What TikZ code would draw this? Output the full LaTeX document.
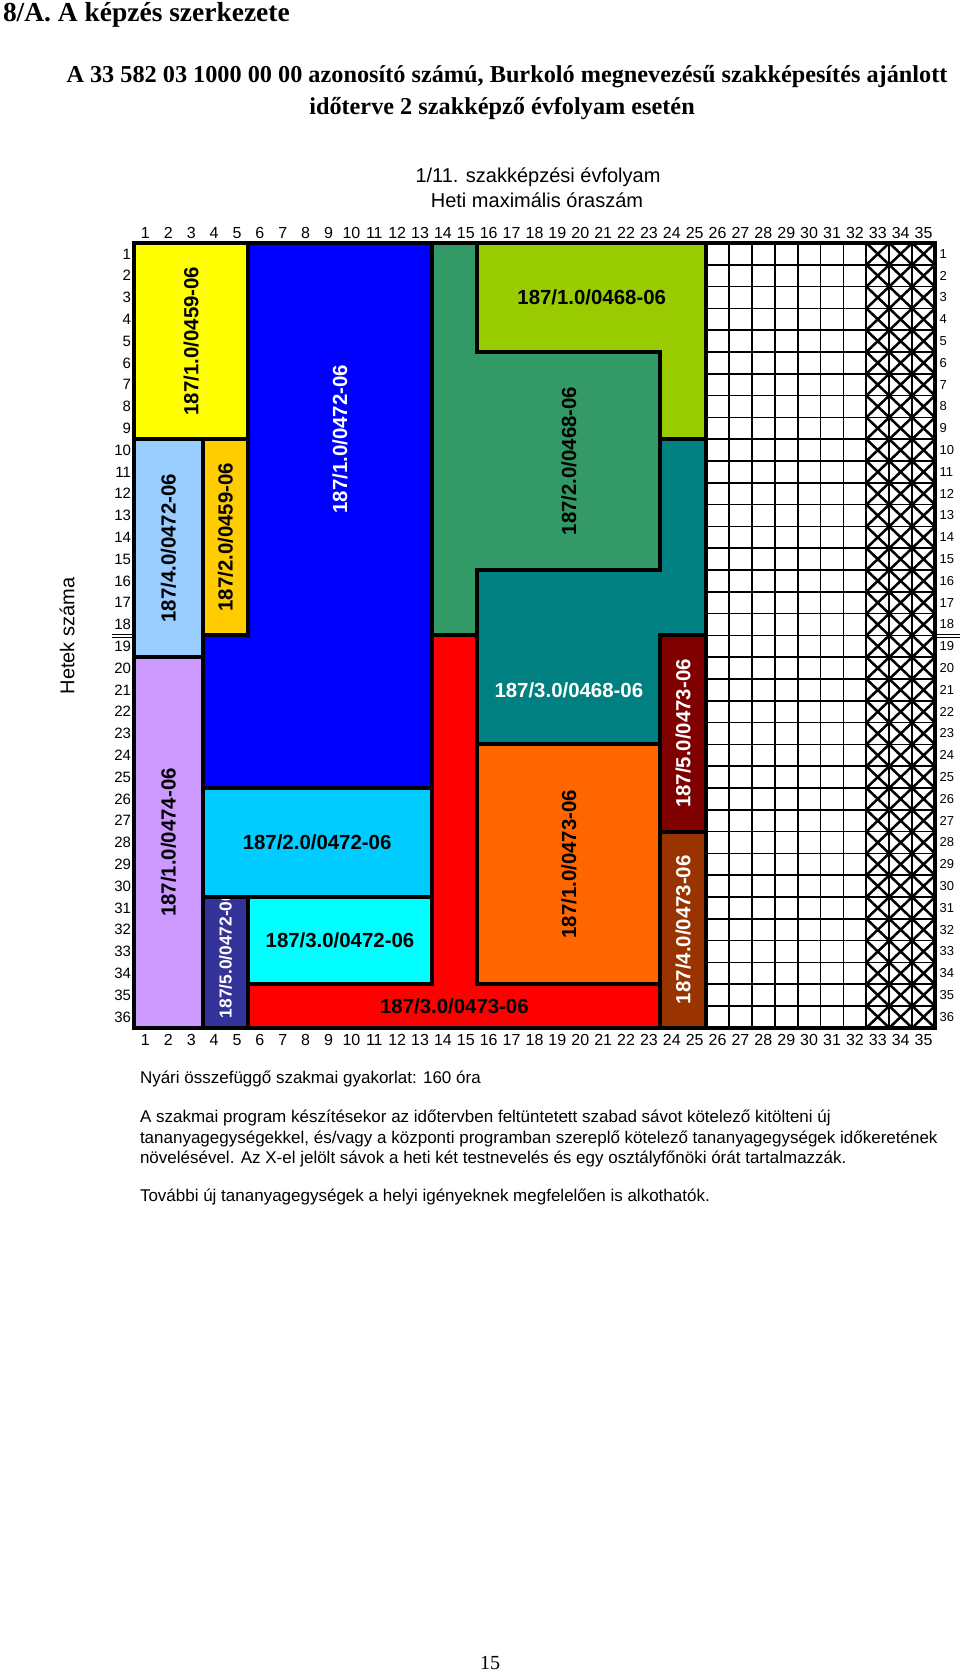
\documentclass[tikz,border=0pt]{standalone}
\usepackage{fontspec}
\setmainfont{Liberation Serif}
\newfontfamily\arial{Liberation Sans}
\definecolor{cYellow}{HTML}{FFFF00}
\definecolor{cLBlue}{HTML}{99CCFF}
\definecolor{cGold}{HTML}{FFCC00}
\definecolor{cBlue}{HTML}{0000FF}
\definecolor{cGreen}{HTML}{339966}
\definecolor{cLime}{HTML}{99CC00}
\definecolor{cTeal}{HTML}{008080}
\definecolor{cRed}{HTML}{FF0000}
\definecolor{cOrange}{HTML}{FF6600}
\definecolor{cMaroon}{HTML}{800000}
\definecolor{cBrown}{HTML}{993300}
\definecolor{cLilac}{HTML}{CC99FF}
\definecolor{cSky}{HTML}{00CCFF}
\definecolor{cCyan}{HTML}{00FFFF}
\definecolor{cNavy}{HTML}{333399}
\begin{document}
\begin{tikzpicture}[x=0.75pt,y=-0.75pt,
  every node/.style={inner sep=0pt, outer sep=0pt},
  blk/.style={draw=black, line width=3pt, line join=miter},
  thin grid/.style={draw=black, line width=1.3pt},
  xline/.style={draw=black, line width=1.9pt},
  lbl/.style={font=\arial\bfseries\fontsize{15.3}{16}\selectfont},
  vlbl/.style={lbl, rotate=90},
  colnum/.style={font=\arial\fontsize{12}{12}\selectfont},
  rownumL/.style={font=\arial\fontsize{11.25}{12}\selectfont, anchor=east},
  rownumR/.style={font=\arial\fontsize{9.75}{10}\selectfont, anchor=west},
  paratext/.style={font=\arial\fontsize{12.75}{14}\selectfont, anchor=base west},
  headtext/.style={font=\arial\fontsize{15}{16}\selectfont, anchor=base}]
\useasboundingbox (0,0) rectangle (960,1675);
\fill[white] (0,0) rectangle (960,1675);

% titles
\node[anchor=base west, font=\bfseries\fontsize{20.6}{21}\selectfont] (title) at (3,21) {8/A. A képzés szerkezete};
\node[anchor=base, font=\bfseries\fontsize{18.2}{19}\selectfont] (sub1) at (507,82) {A 33 582 03 1000 00 00 azonosító számú, Burkoló megnevezésű szakképesítés ajánlott};
\node[anchor=base, font=\bfseries\fontsize{18.2}{19}\selectfont] (sub2) at (502,114) {időterve 2 szakképző évfolyam esetén};
\node[headtext] (head1) at (538,182) {1/11. szakképzési évfolyam};
\node[headtext] (head2) at (537,207) {Heti maximális óraszám};
\node[font=\arial\fontsize{15}{16}\selectfont, rotate=90] (weeks) at (67,636) {Hetek száma};

% double separator lines between rows 18 and 19
\draw[line width=0.8pt] (112,634.5) -- (134,634.5) (112,637.5) -- (134,637.5);
\draw[line width=0.8pt] (936,634.5) -- (960,634.5) (936,637.5) -- (960,637.5);

\begin{scope}[shift={(134,243)}, x=17.1645pt, y=-16.35pt]
  % fills
  \fill[cYellow] (0,0) rectangle (5,9);
  \fill[cLBlue] (0,9) rectangle (3,19);
  \fill[cGold] (3,9) rectangle (5,18);
  \fill[cBlue] (5,0) -- (13,0) -- (13,25) -- (3,25) -- (3,18) -- (5,18) -- cycle;
  \fill[cGreen] (13,0) -- (15,0) -- (15,5) -- (23,5) -- (23,15) -- (15,15) -- (15,18) -- (13,18) -- cycle;
  \fill[cLime] (15,0) -- (25,0) -- (25,9) -- (23,9) -- (23,5) -- (15,5) -- cycle;
  \fill[cTeal] (23,9) -- (25,9) -- (25,18) -- (23,18) -- (23,23) -- (15,23) -- (15,15) -- (23,15) -- cycle;
  \fill[cRed] (13,18) -- (15,18) -- (15,34) -- (23,34) -- (23,36) -- (5,36) -- (5,34) -- (13,34) -- cycle;
  \fill[cOrange] (15,23) rectangle (23,34);
  \fill[cMaroon] (23,18) rectangle (25,27);
  \fill[cBrown] (23,27) rectangle (25,36);
  \fill[cLilac] (0,19) rectangle (3,36);
  \fill[cSky] (3,25) rectangle (13,30);
  \fill[cCyan] (5,30) rectangle (13,34);
  \fill[cNavy] (3,30) rectangle (5,36);

  % free grid and X cells
  \foreach \c in {26,...,34} \draw[thin grid] (\c,0) -- (\c,36);
  \foreach \r in {1,...,35} \draw[thin grid] (25,\r) -- (35,\r);
  \foreach \c in {32,33,34} \foreach \r in {0,...,35}
    \draw[xline] (\c,\r) -- (\c+1,\r+1) (\c+1,\r) -- (\c,\r+1);

  % block outlines
  \draw[blk] (0,0) rectangle (5,9);
  \draw[blk] (0,9) rectangle (3,19);
  \draw[blk] (3,9) rectangle (5,18);
  \draw[blk] (5,0) -- (13,0) -- (13,25) -- (3,25) -- (3,18) -- (5,18) -- cycle;
  \draw[blk] (13,0) -- (15,0) -- (15,5) -- (23,5) -- (23,15) -- (15,15) -- (15,18) -- (13,18) -- cycle;
  \draw[blk] (15,0) -- (25,0) -- (25,9) -- (23,9) -- (23,5) -- (15,5) -- cycle;
  \draw[blk] (23,9) -- (25,9) -- (25,18) -- (23,18) -- (23,23) -- (15,23) -- (15,15) -- (23,15) -- cycle;
  \draw[blk] (13,18) -- (15,18) -- (15,34) -- (23,34) -- (23,36) -- (5,36) -- (5,34) -- (13,34) -- cycle;
  \draw[blk] (15,23) rectangle (23,34);
  \draw[blk] (23,18) rectangle (25,27);
  \draw[blk] (23,27) rectangle (25,36);
  \draw[blk] (0,19) rectangle (3,36);
  \draw[blk] (3,25) rectangle (13,30);
  \draw[blk] (5,30) rectangle (13,34);
  \draw[blk] (3,30) rectangle (5,36);
  \draw[blk] (25,0) -- (25,36);
  \draw[blk] (0,0) rectangle (35,36);

  % block labels
  \node[vlbl] (l1) at (2.5,4.5) {187/1.0/0459-06};
  \node[vlbl] (l2) at (1.5,14) {187/4.0/0472-06};
  \node[vlbl] (l3) at (4,13.5) {187/2.0/0459-06};
  \node[vlbl, white] (l4) at (9,9) {187/1.0/0472-06};
  \node[vlbl] (l5) at (19,10) {187/2.0/0468-06};
  \node[lbl] (l6) at (20,2.5) {187/1.0/0468-06};
  \node[lbl, white] (l7) at (19,20.5) {187/3.0/0468-06};
  \node[lbl] (l8) at (14,35) {187/3.0/0473-06};
  \node[vlbl] (l9) at (19,28.5) {187/1.0/0473-06};
  \node[vlbl, white] (l10) at (24,22.5) {187/5.0/0473-06};
  \node[vlbl, white] (l11) at (24,31.5) {187/4.0/0473-06};
  \node[vlbl] (l12) at (1.5,27.5) {187/1.0/0474-06};
  \node[lbl] (l13) at (8,27.5) {187/2.0/0472-06};
  \node[lbl] (l14) at (9,32) {187/3.0/0472-06};
  \begin{scope}
    \clip (3.1,30.1) rectangle (4.9,35.9);
    \node[vlbl, white, anchor=west, font=\arial\bfseries\fontsize{13}{14}\selectfont] (l15) at (4,35.55) {187/5.0/0472-06};
  \end{scope}

  % axis numbers
  \foreach \c in {1,...,35} {
    \node[colnum] (ct\c) at (\c-0.5,-0.46) {\c};
    \node[colnum] (cb\c) at (\c-0.5,36.56) {\c};
  }
  \foreach \r in {1,...,36} {
    \node[rownumL] (rl\r) at (-0.13,\r-0.5) {\r};
    \node[rownumR] (rr\r) at (35.2,\r-0.5) {\r};
  }
\end{scope}

% notes
\node[paratext] (n1) at (140,1083) {Nyári összefüggő szakmai gyakorlat: 160 óra};
\node[paratext] (n2) at (140,1122) {A szakmai program készítésekor az időtervben feltüntetett szabad sávot kötelező kitölteni új};
\node[paratext] (n3) at (140,1143) {tananyagegységekkel, és/vagy a központi programban szereplő kötelező tananyagegységek időkeretének};
\node[paratext] (n4) at (140,1163) {növelésével. Az X-el jelölt sávok a heti két testnevelés és egy osztályfőnöki órát tartalmazzák.};
\node[paratext] (n5) at (140,1201) {További új tananyagegységek a helyi igényeknek megfelelően is alkothatók.};
\node[anchor=base, font=\fontsize{15}{16}\selectfont] (page) at (490,1669) {15};
\end{tikzpicture}
\end{document}
